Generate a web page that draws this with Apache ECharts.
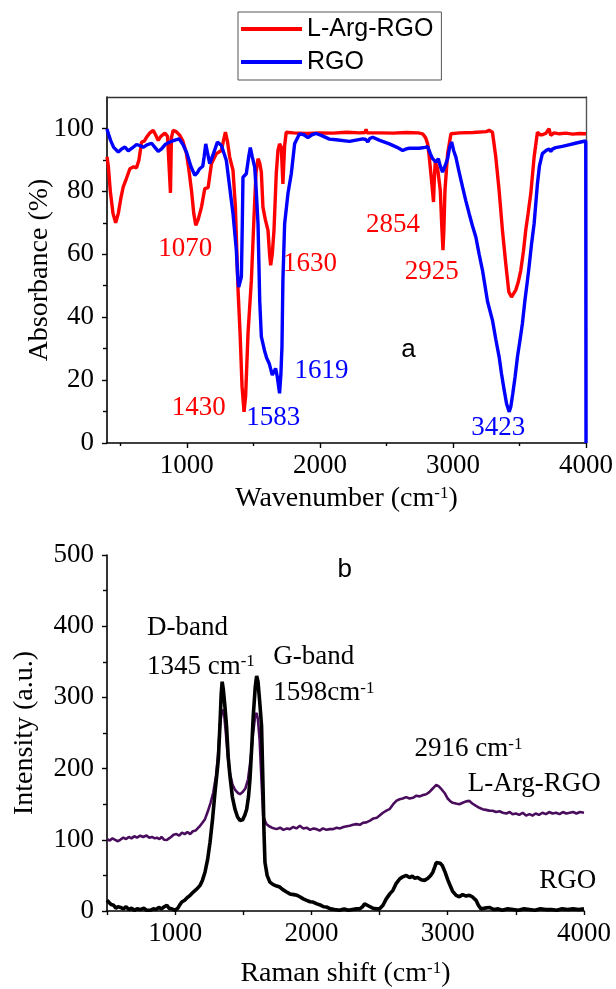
<!DOCTYPE html>
<html>
<head>
<meta charset="utf-8">
<script src="https://cdn.jsdelivr.net/npm/echarts@6/dist/echarts.min.js"></script>
<style>
  html, body { margin: 0; padding: 0; background: #fff; }
  #chart { width: 616px; height: 989px; }
</style>
</head>
<body>
<div id="chart"></div>
<script>
// ---- (a) FTIR spectra: [wavenumber cm-1, absorbance %] ----
const ftirArgRgo = [
  [400,91],[410,88],[425,80],[445,73],[465,70],[485,73],[505,78],[522,81.4],[545,84],[572,87.2],
  [600,87.8],[622,87.5],[640,90],[660,95.7],[680,96],[697,97.2],[720,98.5],[747,99.4],[765,98],
  [785,96.2],[805,97.5],[835,98.5],[855,97.5],[870,97],[877,79.5],[884,97],[897,99.4],[920,99],
  [947,97.8],[970,96],[997,92],[1015,87],[1035,80.3],[1052,73],[1067,69.2],[1085,71],[1110,75],
  [1135,80.9],[1160,81.2],[1185,88.8],[1222,92],[1260,93],[1280,97],[1290,98.8],[1305,96],
  [1322,90.9],[1347,86.7],[1365,75],[1385,48.6],[1400,35],[1415,18],[1430,9.9],[1442,15],
  [1460,35],[1485,51.7],[1505,72],[1520,86],[1535,90.4],[1548,89],[1560,86.1],[1572,75],
  [1590,71],[1610,67.6],[1622,60],[1630,56.5],[1642,60],[1655,67.6],[1672,85.6],[1685,93],
  [1697,95.1],[1710,94],[1716,88],[1722,82.4],[1728,88],[1735,94.6],[1747,98.8],[1800,98.6],
  [1900,98.4],[2000,98.6],[2100,98.5],[2200,98.8],[2300,98.6],[2340,98.7],[2347,99.8],[2354,98.6],
  [2450,98.6],[2550,98.5],[2650,98.7],[2740,98.6],[2772,98.3],[2795,97],[2810,95.1],[2822,90.9],
  [2838,84],[2854,76.6],[2860,84],[2867,89.3],[2885,87.2],[2905,80.3],[2915,70],[2925,61.3],
  [2932,68],[2940,80.3],[2960,92],[2985,98.3],[3050,98.6],[3150,98.7],[3250,99],[3272,99.4],
  [3297,98.8],[3322,90.9],[3347,80.3],[3372,67.6],[3397,57],[3420,48],[3440,46.4],[3455,47],
  [3472,48.6],[3490,51],[3510,54.9],[3530,61],[3547,67.6],[3565,73],[3585,79.3],[3610,90.9],
  [3635,98.8],[3655,98],[3672,98],[3700,98.5],[3715,99],[3722,99.9],[3735,97.8],[3760,98.6],
  [3800,98.3],[3850,98.5],[3900,98.2],[3950,98.4],[4000,98.3]
];
const ftirRgo = [
  [400,99.9],[405,99],[427,96.2],[450,94],[485,92.5],[510,93.5],[535,94.1],[560,92.9],[590,93.8],
  [622,94.9],[650,94.5],[672,94],[700,94.8],[735,95.3],[760,94],[785,92.7],[810,93.5],[840,95],
  [872,95.7],[910,96.3],[942,96.7],[970,95],[997,92.5],[1030,88],[1060,85.1],[1080,86],[1097,87.2],
  [1120,88],[1130,91],[1142,95.1],[1152,93],[1172,88.8],[1200,92],[1230,95.7],[1260,94.6],
  [1297,89.8],[1320,82],[1347,72.9],[1372,61.3],[1382,53],[1390,49.6],[1400,50],[1410,52.8],
  [1417,70],[1422,84.5],[1447,85.6],[1465,91],[1477,93.9],[1492,91],[1510,87.7],[1522,80],
  [1535,69.7],[1548,45],[1560,33.8],[1575,31],[1583,29.5],[1600,27],[1619,25.3],[1642,21.6],
  [1655,22],[1667,23.7],[1680,21],[1697,15.8],[1707,22],[1715,30.6],[1722,51.7],[1735,69.7],
  [1760,79.3],[1785,85.6],[1810,95.1],[1847,98.3],[1880,98],[1910,97.1],[1940,98],[1972,98.4],
  [2010,97.8],[2072,96.6],[2122,96.4],[2222,95.9],[2322,96.7],[2345,96.5],[2360,95.7],[2375,96.8],
  [2397,97.2],[2450,96.2],[2522,95.1],[2580,94],[2622,93],[2650,93.5],[2672,93.7],[2747,93.7],
  [2790,94],[2810,94.2],[2830,92],[2847,90.4],[2872,89.3],[2890,90.4],[2905,88],[2922,86.1],
  [2940,88],[2960,90.4],[2975,94],[2990,95.7],[3005,93],[3022,90.9],[3047,86],[3072,81.4],
  [3097,77],[3122,72.9],[3147,69],[3172,65.5],[3197,60],[3222,54.9],[3260,45],[3297,39],
  [3322,33],[3347,27.4],[3365,22],[3385,16.8],[3403,12.5],[3423,9.9],[3435,11.5],[3450,15.8],
  [3467,21],[3485,27.4],[3505,33],[3522,38],[3540,45],[3560,51.7],[3572,56],[3590,63],
  [3610,69.7],[3635,82.4],[3650,88],[3672,92],[3700,93],[3722,93.5],[3735,92.7],[3750,93.5],
  [3772,93.9],[3822,94.3],[3870,94.8],[3920,95.3],[3960,95.7],[3998,96],[4000,0]
];

// ---- (b) Raman spectra: [Raman shift cm-1, intensity a.u.] ----
const ramanArgRgo = [
  [500,101],[520,99],[540,102],[560,100],[580,98],[597,100],[620,103],[640,101],[660,104],[680,102],
  [700,105],[720,103],[744,105.7],[765,104],[790,106],[810,103],[830,104],[850,102],[866,103],
  [885,101],[900,104],[920,100],[939,99.7],[955,102],[970,104],[988,107],[1010,108],[1030,106],
  [1050,110],[1070,108],[1090,111],[1110,108],[1130,112],[1150,113],[1165,116],[1183,119.7],
  [1200,124],[1219,129],[1240,140],[1260,152],[1280,166.4],[1300,190],[1315,220],[1330,262],
  [1342,280],[1350,283],[1360,275],[1372,250],[1385,220],[1400,195],[1420,178],[1440,170],
  [1460,166],[1476,164],[1495,167],[1515,172],[1535,185],[1555,215],[1572,250],[1588,275],
  [1598,278],[1607,270],[1620,240],[1632,190],[1646,134],[1660,126],[1671,122],[1690,119],
  [1710,117],[1744,115],[1770,117],[1795,114],[1820,116],[1842,115],[1865,118],[1890,116],
  [1915,119.7],[1940,116],[1965,117],[1990,114],[2015,116],[2037,115],[2060,113],[2085,116],
  [2110,114],[2135,115],[2159,115],[2185,117],[2210,116],[2235,118],[2260,119],[2281,119.7],
  [2305,121],[2330,122],[2355,121],[2380,124],[2403,124.5],[2430,127],[2455,130],[2480,131],
  [2500,134],[2525,138],[2550,141],[2573,143],[2600,150],[2625,155],[2647,157],[2670,158],
  [2695,160],[2720,158],[2745,159],[2770,162],[2795,161],[2820,163],[2842,164],[2865,167],
  [2885,171],[2900,174],[2916,177],[2935,175],[2950,172],[2964,171],[2980,165],[3000,158],
  [3020,154],[3037,152],[3060,151],[3086,150],[3110,152],[3135,154],[3159,154.7],[3180,151],
  [3205,148],[3232,145],[3255,143],[3280,142],[3305,141],[3330,140.7],[3355,139],[3380,140],
  [3405,138],[3430,137],[3455,139],[3476,136],[3500,137],[3525,135],[3550,138],[3575,134],
  [3600,136],[3622,134],[3645,137],[3670,135],[3695,138],[3720,136],[3745,139],[3769,137],
  [3795,138],[3820,136],[3845,139],[3870,137],[3895,138],[3920,139],[3945,137],[3970,139],[4000,138]
];
const ramanRgo = [
  [500,15],[515,12],[530,9],[549,8],[565,4],[580,6],[600,5],[620,3],[640,6],[660,2],[680,4],
  [700,1],[720,3],[745,2],[770,4],[790,1],[817,1],[840,3],[860,2],[880,5],[900,3],[920,6],
  [939,8],[955,4],[975,3],[1000,1],[1020,4],[1035,9],[1049,12.6],[1070,15],[1090,19],[1110,22],
  [1135,27],[1160,31],[1183,36],[1200,43],[1219,54.5],[1238,72],[1256,96.5],[1275,130],
  [1292,166],[1305,190],[1317,213],[1329,262],[1338,305],[1345,322],[1353,312],[1364,290],
  [1377,260],[1390,215],[1402,190],[1420,160],[1439,143],[1458,132],[1476,127],[1495,128],
  [1510,134],[1525,143],[1538,160],[1549,185],[1562,230],[1573,273.6],[1588,315],[1598,330],
  [1608,322],[1620,295],[1634,260],[1646,166],[1652,110],[1659,68.5],[1675,50],[1695,40.5],
  [1720,37],[1745,35],[1768,33.6],[1790,30],[1815,27],[1842,24],[1870,23],[1895,22],[1915,20],
  [1940,17],[1965,15],[1990,13],[2012,12.6],[2040,10],[2070,8],[2090,6],[2110,5.6],[2140,3],
  [2170,2],[2207,1],[2240,3],[2270,1],[2300,2],[2330,3],[2354,3],[2375,6],[2390,10],[2403,10],
  [2420,7],[2450,4],[2480,3],[2500,3],[2525,8],[2549,17],[2575,24],[2598,29],[2620,38],[2647,45],
  [2670,48],[2696,50],[2720,47],[2740,49],[2757,46],[2780,47],[2805,44],[2830,43],[2855,46],
  [2875,50],[2891,54.5],[2905,62],[2916,68],[2930,69],[2945,67],[2960,64],[2980,55],[3000,44],
  [3013,38],[3035,28],[3062,22],[3085,20],[3110,23],[3135,21],[3159,22],[3180,20],[3208,15],
  [3225,8],[3244,3],[3270,4],[3305,5],[3340,2],[3370,3],[3400,1],[3440,3],[3480,2],[3520,1],
  [3560,3],[3600,2],[3640,1],[3680,3],[3720,2],[3760,2],[3800,1],[3840,3],[3880,2],[3920,3],
  [3960,2],[4000,3]
];

// ---- axis tick values ----
const ftirLabelX = [1000, 2000, 3000, 4000];
const ftirMinorX = [500, 1500, 2500, 3500];
const ftirLabelY = [0, 20, 40, 60, 80, 100];
const ftirMinorY = [10, 30, 50, 70, 90];

// ---- text annotations: text, anchor in data units, colour ----
const ftirNotes = [
  { text: '1070', at: [989, 61.6], color: '#ff0000' },
  { text: '1630', at: [1926, 56.8], color: '#ff0000' },
  { text: '2854', at: [2549, 69.2], color: '#ff0000' },
  { text: '2925', at: [2841, 54.3], color: '#ff0000' },
  { text: '1430', at: [1090, 11.1], color: '#ff0000' },
  { text: '1583', at: [1650, 7.9], color: '#0000ff' },
  { text: '1619', at: [2012, 22.9], color: '#0000ff' },
  { text: '3423', at: [3340, 4.8], color: '#0000ff' }
];
const ramanNotes = [
  { text: 'D-band', at: [793, 397.6], align: 'left' },
  { text: '1345 cm{sup|-1}', at: [793, 343.5], align: 'left' },
  { text: 'G-band', at: [1720, 357.5], align: 'left' },
  { text: '1598cm{sup|-1}', at: [1720, 306], align: 'left' },
  { text: '2916 cm{sup|-1}', at: [2757, 227], align: 'left' },
  { text: 'L-Arg-RGO', at: [3147, 178], align: 'left' },
  { text: 'RGO', at: [3672, 42.8], align: 'left' }
];

const SERIF = 'Liberation Serif, Times New Roman, serif';
const SANS = 'Liberation Sans, Arial, sans-serif';
const supRich = {
  sup: { fontFamily: SERIF, fontSize: 17, lineHeight: 15, verticalAlign: 'top', color: '#000' }
};
const axisLine = { onZero: false, lineStyle: { color: '#000', width: 1.6 } };
const tickLine = { color: '#000', width: 1.4 };
const tickFont = { fontFamily: SERIF, fontSize: 27, color: '#000' };
const plain = v => String(v);

// One invisible anchor point per text note, labelled with the note text.
function noteSeries(note, gi, font, size) {
  const col = note.color || '#000';
  return {
    type: 'scatter', xAxisIndex: gi === 0 ? 0 : 3, yAxisIndex: gi === 0 ? 0 : 3,
    data: [note.at], symbolSize: 1, itemStyle: { color: 'rgba(0,0,0,0)' }, silent: true, z: 10,
    label: {
      show: true, position: [0.5, 0.5], formatter: note.text,
      align: note.align || 'center', verticalAlign: 'middle',
      fontFamily: font, fontSize: size, color: col, opacity: 1,
      textBorderWidth: 0,
      rich: { sup: Object.assign({}, supRich.sup, { color: col }) }
    }
  };
}

const chart = echarts.init(document.getElementById('chart'), null, { renderer: 'canvas' });

const series = [
  { name: 'L-Arg-RGO', type: 'line', xAxisIndex: 0, yAxisIndex: 0, data: ftirArgRgo,
    symbol: 'none', lineStyle: { color: '#ff0000', width: 3.4 }, itemStyle: { color: '#ff0000' } },
  { name: 'RGO', type: 'line', xAxisIndex: 0, yAxisIndex: 0, data: ftirRgo,
    symbol: 'none', lineStyle: { color: '#0000ff', width: 3.4 }, itemStyle: { color: '#0000ff' } },
  { name: 'L-Arg-RGO Raman', type: 'line', xAxisIndex: 3, yAxisIndex: 3, data: ramanArgRgo,
    symbol: 'none', lineStyle: { color: '#4a0c5c', width: 2.6 }, itemStyle: { color: '#4a0c5c' } },
  { name: 'RGO Raman', type: 'line', xAxisIndex: 3, yAxisIndex: 3, data: ramanRgo,
    symbol: 'none', lineStyle: { color: '#000', width: 3.6 }, itemStyle: { color: '#000' } }
];
ftirNotes.forEach(n => series.push(noteSeries(n, 0, SERIF, 27)));
ramanNotes.forEach(n => series.push(noteSeries(n, 1, SERIF, 27)));
series.push(noteSeries({ text: 'a', at: [2665, 29.5] }, 0, SANS, 26));
series.push(noteSeries({ text: 'b', at: [2244, 479] }, 1, SANS, 26));

chart.setOption({
  animation: false,
  backgroundColor: '#fff',
  legend: {
    data: [{ name: 'L-Arg-RGO' }, { name: 'RGO' }],
    orient: 'vertical', left: 238, top: 12,
    icon: 'rect', itemWidth: 61, itemHeight: 4, itemGap: 3,
    padding: [2, 8, 3, 3], borderColor: '#555', borderWidth: 1,
    selectedMode: false,
    textStyle: { fontFamily: SANS, fontSize: 25, lineHeight: 30, color: '#000' }
  },
  grid: [
    { left: 107, right: 30, top: 97, bottom: 546 },
    { left: 107, right: 32, top: 555, bottom: 77 }
  ],
  xAxis: [
    { gridIndex: 0, type: 'value', min: 400, max: 4000, position: 'bottom',
      axisLine: axisLine,
      axisTick: { customValues: ftirLabelX, length: 5, lineStyle: tickLine },
      axisLabel: Object.assign({ customValues: ftirLabelX, margin: 9, formatter: plain }, tickFont),
      splitLine: { show: false },
      name: 'Wavenumber (cm{sup|-1})', nameLocation: 'middle', nameGap: 42, nameMoveOverlap: false,
      nameTextStyle: { fontFamily: SERIF, fontSize: 28, color: '#000', verticalAlign: 'top', rich: supRich } },
    { gridIndex: 0, type: 'value', min: 400, max: 4000, position: 'bottom',
      axisLine: { show: false, onZero: false },
      axisTick: { customValues: ftirMinorX, length: 3, lineStyle: tickLine },
      axisLabel: { show: false }, splitLine: { show: false } },
    { gridIndex: 0, type: 'value', min: 400, max: 4000, position: 'top',
      axisLine: { onZero: false, lineStyle: { color: '#333', width: 1.4 } },
      axisTick: { show: false }, axisLabel: { show: false }, splitLine: { show: false } },
    { gridIndex: 1, type: 'value', min: 500, max: 4000, interval: 500, position: 'bottom',
      axisLine: axisLine,
      axisTick: { length: 4, lineStyle: tickLine },
      axisLabel: Object.assign({ margin: 9, formatter: v => (v % 1000 === 0 ? String(v) : '') }, tickFont),
      splitLine: { show: false },
      name: 'Raman shift (cm{sup|-1})', nameLocation: 'middle', nameGap: 49, nameMoveOverlap: false,
      nameTextStyle: { fontFamily: SERIF, fontSize: 28, color: '#000', verticalAlign: 'top', rich: supRich } }
  ],
  yAxis: [
    { gridIndex: 0, type: 'value', min: 0, max: 110, position: 'left',
      axisLine: axisLine,
      axisTick: { customValues: ftirLabelY, length: 5, lineStyle: tickLine },
      axisLabel: Object.assign({ customValues: ftirLabelY, margin: 13, formatter: plain }, tickFont),
      splitLine: { show: false },
      name: 'Absorbance (%)', nameLocation: 'middle', nameGap: 53, nameMoveOverlap: false,
      nameTextStyle: { fontFamily: SERIF, fontSize: 28, color: '#000' } },
    { gridIndex: 0, type: 'value', min: 0, max: 110, position: 'left',
      axisLine: { show: false, onZero: false },
      axisTick: { customValues: ftirMinorY, length: 4, lineStyle: tickLine },
      axisLabel: { show: false }, splitLine: { show: false } },
    { gridIndex: 0, type: 'value', min: 0, max: 110, position: 'right',
      axisLine: { onZero: false, lineStyle: { color: '#555', width: 1.4 } },
      axisTick: { show: false }, axisLabel: { show: false }, splitLine: { show: false } },
    { gridIndex: 1, type: 'value', min: 0, max: 500, interval: 100, position: 'left',
      axisLine: axisLine,
      axisTick: { length: 5, lineStyle: tickLine },
      minorTick: { show: true, splitNumber: 2, length: 4, lineStyle: tickLine },
      axisLabel: Object.assign({ margin: 13 }, tickFont),
      splitLine: { show: false },
      name: 'Intensity (a.u.)', nameLocation: 'middle', nameGap: 68, nameMoveOverlap: false,
      nameTextStyle: { fontFamily: SERIF, fontSize: 28, color: '#000' } }
  ],
  series: series
});
</script>
</body>
</html>
